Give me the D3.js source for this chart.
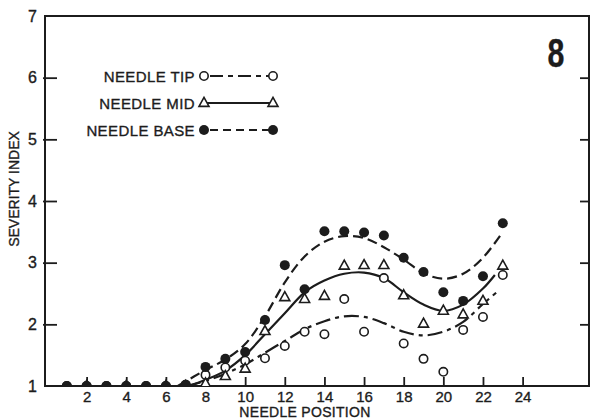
<!DOCTYPE html>
<html>
<head>
<meta charset="utf-8">
<script src="https://cdn.jsdelivr.net/npm/d3@7"></script>
<style>
  html, body { margin: 0; padding: 0; background: #fff; }
  svg { display: block; font-family: "Liberation Sans", Arial, Helvetica, sans-serif; }
  svg text { stroke: #1c1c1c; stroke-width: 0.35px; }
</style>
</head>
<body>
<svg id="chart" width="592" height="420"></svg>
<script>
// Needle positions along the shoot
const positions = [1, 2, 3, 4, 5, 6, 7, 8, 9, 10, 11, 12, 13, 14, 15, 16, 17, 18, 19, 20, 21, 22, 23];

// Observed severity index per needle part
const tipValues  = [1.0, 1.0, 1.0, 1.0, 1.0, 1.0, 1.02, 1.18, 1.30, 1.41, 1.45, 1.65, 1.88, 1.84, 2.41, 1.88, 2.75, 1.69, 1.44, 1.23, 1.91, 2.12, 2.80];
const midValues  = [null, 1.0, null, 1.0, null, 1.0, 1.0, 1.04, 1.16, 1.28, 1.89, 2.44, 2.41, 2.46, 2.95, 2.96, 2.96, 2.47, 2.01, 2.22, 2.16, 2.38, 2.95];
const baseValues = [1.0, 1.0, 1.0, 1.0, 1.0, 1.0, 1.02, 1.31, 1.44, 1.55, 2.07, 2.96, 2.57, 3.51, 3.51, 3.49, 3.44, 3.08, 2.85, 2.52, 2.38, 2.78, 3.64];

// Fitted trend curves (knots along each curve)
const tipCurveX  = [7.0, 8, 9, 10, 11, 12, 13, 14, 15, 16, 17, 18, 19, 20, 21, 22, 22.8];
const tipCurveY  = [1.0, 1.08, 1.2, 1.35, 1.54, 1.73, 1.92, 2.05, 2.13, 2.12, 2.02, 1.88, 1.82, 1.88, 2.04, 2.33, 2.55];
const midCurveX  = [7.2, 8, 9, 10, 11, 12, 13, 14, 15, 16, 17, 18, 19, 20, 21, 22, 22.6];
const midCurveY  = [1.0, 1.1, 1.25, 1.5, 1.84, 2.18, 2.52, 2.71, 2.82, 2.84, 2.75, 2.52, 2.32, 2.22, 2.32, 2.58, 2.8];
const baseCurveX = [6.6, 8, 9, 10, 11, 12, 13, 14, 15, 16, 17, 18, 19, 20, 21, 22, 23];
const baseCurveY = [1.0, 1.26, 1.43, 1.68, 2.13, 2.68, 3.1, 3.34, 3.43, 3.4, 3.25, 3.05, 2.83, 2.74, 2.82, 3.08, 3.5];

// Axis ticks
const xTicks = [2, 4, 6, 8, 10, 12, 14, 16, 18, 20, 22, 24];
const yTicks = [1, 2, 3, 4, 5, 6, 7];
const rightTicks = [2, 3, 4, 5, 6];

// Legend entries and panel label
const legendLabels = ["NEEDLE TIP", "NEEDLE MID", "NEEDLE BASE"];
const panelLabel = "8";
const xTitle = "NEEDLE POSITION";
const yTitle = "SEVERITY INDEX";

const ink = "#1c1c1c";
const svg = d3.select("#chart");

const plotLeft = 45, plotRight = 589, plotTop = 16, plotBottom = 386;
const x = d3.scaleLinear().domain([-0.1, 27.35]).range([plotLeft, plotRight]);
const y = d3.scaleLinear().domain([1, 7]).range([plotBottom, plotTop]);

svg.append("defs").append("clipPath").attr("id", "plot")
  .append("rect").attr("x", plotLeft).attr("y", plotTop)
  .attr("width", plotRight - plotLeft).attr("height", plotBottom - plotTop);

// Frame
svg.append("rect")
  .attr("x", plotLeft).attr("y", plotTop)
  .attr("width", plotRight - plotLeft).attr("height", plotBottom - plotTop)
  .attr("fill", "none").attr("stroke", ink).attr("stroke-width", 2);

// Left axis: inward ticks, labels outside
const yAxis = d3.axisLeft(y).tickValues(yTicks).tickSize(0).tickPadding(8).tickFormat(d3.format("d"));
const gy = svg.append("g").attr("transform", `translate(${plotLeft},0)`).call(yAxis);
gy.select(".domain").remove();
gy.selectAll("text").attr("font-size", 16).attr("fill", ink).attr("font-family", "Liberation Sans, Arial, sans-serif");
gy.selectAll(".tick").filter(d => d !== 1 && d !== 7).append("line")
  .attr("x1", -2).attr("x2", 12).attr("stroke", ink).attr("stroke-width", 1.8);

// Bottom axis: inward ticks
const xAxis = d3.axisBottom(x).tickValues(xTicks).tickSize(0).tickPadding(5).tickFormat(d3.format("d"));
const gx = svg.append("g").attr("transform", `translate(0,${plotBottom})`).call(xAxis);
gx.select(".domain").remove();
gx.selectAll("text").attr("font-size", 15).attr("fill", ink).attr("font-family", "Liberation Sans, Arial, sans-serif");
gx.selectAll(".tick").append("line")
  .attr("y1", 0).attr("y2", -9).attr("stroke", ink).attr("stroke-width", 1.8);

// Right axis: inward ticks only
const yAxisR = d3.axisRight(y).tickValues(rightTicks).tickSize(0).tickFormat("");
const gr = svg.append("g").attr("transform", `translate(${plotRight},0)`).call(yAxisR);
gr.select(".domain").remove();
gr.selectAll(".tick").append("line")
  .attr("x1", 0).attr("x2", -9).attr("stroke", ink).attr("stroke-width", 1.8);

// Axis titles
svg.append("text").attr("x", 305).attr("y", 417).attr("text-anchor", "middle")
  .attr("font-size", 14).attr("letter-spacing", 0.3).attr("fill", ink).text(xTitle);
svg.append("text").attr("transform", "translate(19,189) rotate(-90)").attr("text-anchor", "middle")
  .attr("font-size", 14).attr("fill", ink).text(yTitle);

// Panel label
svg.append("text").attr("transform", "translate(556,67) scale(0.74,1)").attr("text-anchor", "middle")
  .attr("font-size", 41).attr("font-weight", "bold").attr("fill", ink).text(panelLabel);

// Series definitions
const series = [
  { name: legendLabels[0], values: tipValues,  cx: tipCurveX,  cy: tipCurveY,  dash: "15,5,4,5", marker: "openCircle" },
  { name: legendLabels[1], values: midValues,  cx: midCurveX,  cy: midCurveY,  dash: null,       marker: "triangle" },
  { name: legendLabels[2], values: baseValues, cx: baseCurveX, cy: baseCurveY, dash: "10,5",     marker: "dot" }
];

const line = d3.line().x(d => x(d[0])).y(d => y(d[1])).curve(d3.curveCatmullRom.alpha(0.5));
const plot = svg.append("g").attr("clip-path", "url(#plot)");

series.forEach(s => {
  const pts = s.cx.map((v, i) => [v, s.cy[i]]);
  plot.append("path").datum(pts).attr("d", line)
    .attr("fill", "none").attr("stroke", ink).attr("stroke-width", 2.2)
    .attr("stroke-dasharray", s.dash);
});

function drawMarker(g, type, px, py) {
  if (type === "dot") {
    g.append("circle").attr("cx", px).attr("cy", py).attr("r", 5).attr("fill", ink);
  } else if (type === "openCircle") {
    g.append("circle").attr("cx", px).attr("cy", py).attr("r", 4.2)
      .attr("fill", "#fff").attr("stroke", ink).attr("stroke-width", 1.6);
  } else {
    const h = 9, w = 10;
    g.append("path")
      .attr("d", `M${px},${py - h * 0.62}L${px + w / 2},${py + h * 0.38}L${px - w / 2},${py + h * 0.38}Z`)
      .attr("fill", "#fff").attr("stroke", ink).attr("stroke-width", 1.6).attr("stroke-linejoin", "miter");
  }
}

// Markers: tip first, base on top for low positions
series.forEach(s => {
  positions.forEach((p, i) => {
    const v = s.values[i];
    if (v == null) return;
    drawMarker(plot, s.marker, x(p), y(v));
  });
});

// Legend
const legendY = [76, 103, 130];
series.forEach((s, i) => {
  const ly = legendY[i];
  svg.append("text").attr("x", 195).attr("y", ly + 5.5).attr("text-anchor", "end")
    .attr("font-size", 15).attr("letter-spacing", 0.4).attr("fill", ink).text(s.name);
  svg.append("line").attr("x1", 204).attr("x2", 272).attr("y1", ly).attr("y2", ly)
    .attr("stroke", ink).attr("stroke-width", 2)
    .attr("stroke-dasharray", s.dash ? (i === 0 ? "13,5,5,5" : "8,5") : null)
    .attr("stroke-dashoffset", s.dash ? -6 : 0);
  drawMarker(svg, s.marker, 204, ly);
  drawMarker(svg, s.marker, 273, ly);
});
</script>
</body>
</html>
